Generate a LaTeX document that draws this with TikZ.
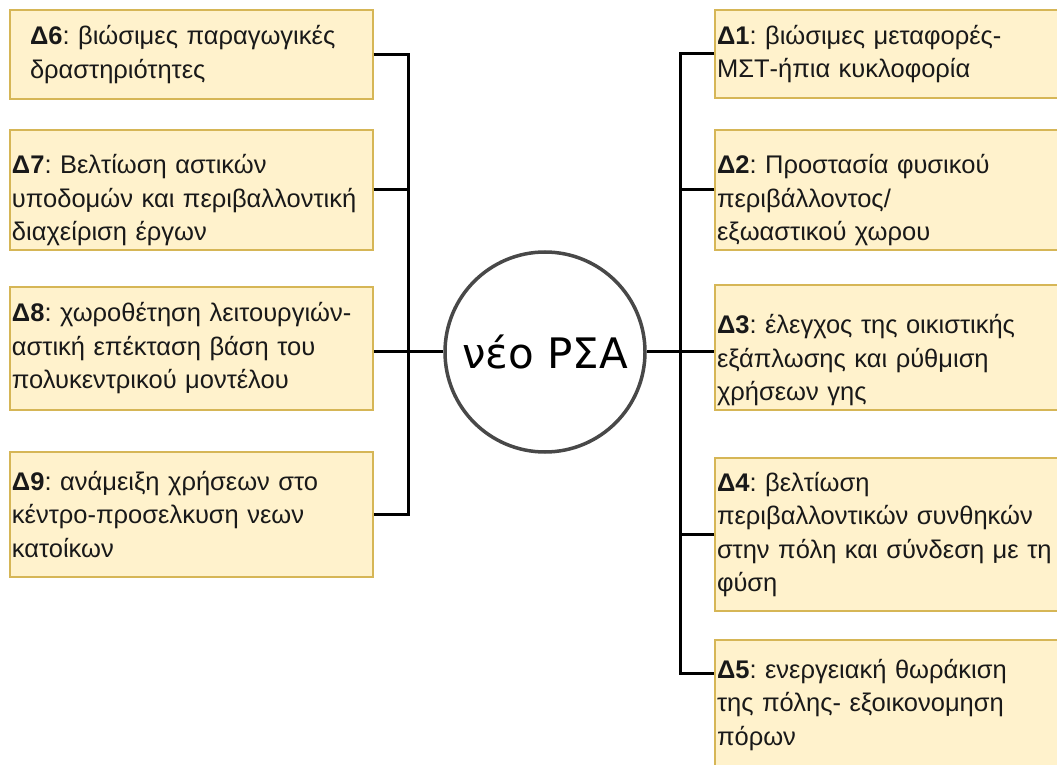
\documentclass[tikz,border=0pt]{standalone}
\usepackage{fontspec}
\setmainfont{Liberation Sans}
\newfontfamily\hubfont{DejaVu Sans}
\usepackage{xcolor}
\usepackage{tikz}
\usetikzlibrary{positioning}
\definecolor{goalfill}{RGB}{255,242,204}
\definecolor{goaledge}{RGB}{214,182,86}
\definecolor{ringgray}{RGB}{72,72,72}
\definecolor{goaltext}{RGB}{25,25,25}
\frenchspacing
\newcommand{\lift}[1]{\par\vspace*{#1}}

\tikzset{
  goal/.style={draw=goaledge,fill=goalfill,line width=1.2pt,minimum height=#1,
    text width=359pt,inner xsep=2pt,inner ysep=0pt,align=left,text=goaltext,
    font=\fontsize{25.5}{33.5}\selectfont},
  link/.style={line width=3pt,black}
}

\begin{document}
\begin{tikzpicture}[x=1pt,y=1pt]
      \useasboundingbox (0,0) rectangle (1057,764);
      % left column
      \node[goal=89pt]  (d6) at (191.5,709.5) {\hspace*{18pt}\textbf{Δ6}: βιώσιμες παραγωγικές\\\hspace*{18pt}δραστηριότητες};
      \node[goal=120pt] (d7) at (191.5,574) {\lift{6pt}\textbf{Δ7}: Βελτίωση αστικών\\υποδομών και περιβαλλοντική\\διαχείριση έργων};
      \node[goal=123pt] (d8) at (191.5,415.5) {\textbf{Δ8}: χωροθέτηση λειτουργιών-\\αστική επέκταση βάση του\\πολυκεντρικού μοντέλου};
      \node[goal=125pt] (d9) at (191.5,249.5) {\textbf{Δ9}: ανάμειξη χρήσεων στο\\κέντρο-προσελκυση νεων\\κατοίκων};
      % right column, running off the page edge
      \node[goal=88pt]  (d1) at (896.5,710) {\textbf{Δ1}: βιώσιμες μεταφορές-\\ΜΣΤ-ήπια κυκλοφορία};
      \node[goal=120pt] (d2) at (896.5,574) {\lift{6pt}\textbf{Δ2}: Προστασία φυσικού\\περιβάλλοντος/\\εξωαστικού χωρου};
      \node[goal=125pt] (d3) at (896.5,416.5) {\lift{11pt}\textbf{Δ3}: έλεγχος της οικιστικής\\εξάπλωσης και ρύθμιση\\χρήσεων γης};
      \node[goal=153pt] (d4) at (896.5,229.5) {\textbf{Δ4}: βελτίωση\\περιβαλλοντικών συνθηκών\\στην πόλη και σύνδεση με τη\\φύση};
      \node[goal=130pt] (d5) at (896.5,59) {\textbf{Δ5}: ενεργειακή θωράκιση\\της πόλης- εξοικονομηση\\πόρων};
      % centre
      \node[circle,draw=ringgray,line width=3.5pt,fill=white,minimum size=200pt,
            font=\hubfont\fontsize{42}{46}\selectfont] (hub) at (545,412) {νέο ΡΣΑ};
      \coordinate (spineL) at (408,412);
      \coordinate (spineR) at (680,412);
      \draw[link] (d6.east) -| (spineL) |- (d9.east);
      \draw[link] (hub.west) -- (hub.west -| d8.east);
      \draw[link] (d1.west) -| (spineR) |- ([yshift=32pt]d5.west);
      \draw[link] (hub.east) -- (hub.east -| d3.west);
      \foreach \g/\s in {d7/spineL,d2/spineR,d4/spineR}
        \draw[link] (\g) -- (\g -| \s);
    \end{tikzpicture}
\end{document}
